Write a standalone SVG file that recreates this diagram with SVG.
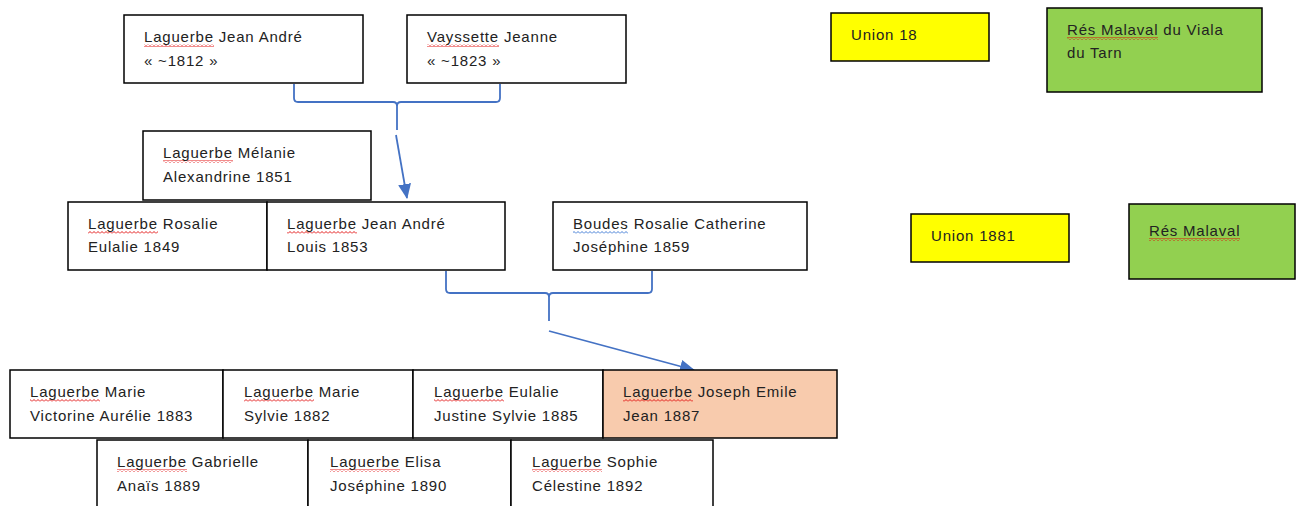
<svg xmlns="http://www.w3.org/2000/svg" width="1303" height="506" viewBox="0 0 1303 506">
<style>
.box{fill:#fff;stroke:#000;stroke-width:1.5}
.y{fill:#ffff00}
.g{fill:#92d050}
.s{fill:#f8cbad}
text{font-family:"Liberation Sans",Arial,sans-serif;font-size:15px;letter-spacing:0.8px;fill:#222}
.con{fill:none;stroke:#4472c4;stroke-width:1.8}
.sq{fill:url(#wavR)}
.sqb{fill:url(#wavB)}
</style>
<defs>
<pattern id="wavR" width="4" height="3" patternUnits="userSpaceOnUse"><path d="M0,2.5 L2,0.5 L4,2.5" fill="none" stroke="#e00000" stroke-width="0.9"/></pattern>
<pattern id="wavB" width="4" height="3" patternUnits="userSpaceOnUse"><path d="M0,2.5 L2,0.5 L4,2.5" fill="none" stroke="#2f6fd0" stroke-width="0.9"/></pattern>
<marker id="ah" markerUnits="userSpaceOnUse" markerWidth="15" markerHeight="13" refX="14" refY="6.5" orient="auto"><path d="M0,0 L15,6.5 L0,13 z" fill="#4472c4"/></marker>
</defs>

<g id="connectors">
<path class="con" d="M294,84 V98 Q294,102 298,102 H393 Q397,102 397,106 V130 M397,106 Q397,102 401,102 H496 Q500,102 500,98 V84"/>
<line class="con" x1="396" y1="135" x2="407" y2="198" marker-end="url(#ah)"/>
<path class="con" d="M446,271 V289 Q446,293 450,293 H545 Q549,293 549,297 V321 M549,297 Q549,293 553,293 H648 Q652,293 652,289 V271"/>
<line class="con" x1="549" y1="331" x2="694" y2="370" marker-end="url(#ah)"/>
</g>

<g id="n-jean-andre-1812">
<rect class="box" x="124" y="15" width="239" height="68"/>
<rect class="sq" x="144" y="44" width="70" height="3"/>
<text x="144" y="42">Laguerbe Jean André</text>
<text x="144" y="66">« ~1812 »</text>
</g>
<g id="n-vayssette">
<rect class="box" x="407" y="15" width="219" height="68"/>
<rect class="sq" x="427" y="44" width="72" height="3"/>
<text x="427" y="42">Vayssette Jeanne</text>
<text x="427" y="66">« ~1823 »</text>
</g>
<g id="n-union18">
<rect class="box y" x="831" y="13" width="158" height="48"/>
<text x="851" y="40">Union 18</text>
</g>
<g id="n-res-viala">
<rect class="box g" x="1047" y="8" width="215" height="84"/>
<rect class="sq" x="1067" y="37" width="91" height="3"/>
<text x="1067" y="35">Rés Malaval du Viala</text>
<text x="1067" y="58">du Tarn</text>
</g>

<g id="n-melanie">
<rect class="box" x="143" y="131" width="228" height="69"/>
<rect class="sq" x="163" y="160" width="70" height="3"/>
<text x="163" y="158">Laguerbe Mélanie</text>
<text x="163" y="182">Alexandrine 1851</text>
</g>
<g id="n-rosalie">
<rect class="box" x="68" y="202" width="199" height="68"/>
<rect class="sq" x="88" y="231" width="70" height="3"/>
<text x="88" y="229">Laguerbe Rosalie</text>
<text x="88" y="252">Eulalie 1849</text>
</g>
<g id="n-jean-andre-louis">
<rect class="box" x="267" y="202" width="238" height="68"/>
<rect class="sq" x="287" y="231" width="70" height="3"/>
<text x="287" y="229">Laguerbe Jean André</text>
<text x="287" y="252">Louis 1853</text>
</g>
<g id="n-boudes">
<rect class="box" x="553" y="202" width="254" height="68"/>
<rect class="sqb" x="573" y="231" width="55" height="3"/>
<text x="573" y="229">Boudes Rosalie Catherine</text>
<text x="573" y="252">Joséphine 1859</text>
</g>
<g id="n-union1881">
<rect class="box y" x="911" y="214" width="158" height="48"/>
<text x="931" y="241">Union 1881</text>
</g>
<g id="n-res-malaval">
<rect class="box g" x="1129" y="204" width="166" height="75"/>
<rect class="sq" x="1149" y="238" width="91" height="3"/>
<text x="1149" y="236">Rés Malaval</text>
</g>

<g id="n-marie-victorine">
<rect class="box" x="10" y="370" width="213" height="68"/>
<rect class="sq" x="30" y="399" width="70" height="3"/>
<text x="30" y="397">Laguerbe Marie</text>
<text x="30" y="421">Victorine Aurélie 1883</text>
</g>
<g id="n-marie-sylvie">
<rect class="box" x="223" y="370" width="190" height="68"/>
<rect class="sq" x="244" y="399" width="70" height="3"/>
<text x="244" y="397">Laguerbe Marie</text>
<text x="244" y="421">Sylvie 1882</text>
</g>
<g id="n-eulalie">
<rect class="box" x="413" y="370" width="190" height="68"/>
<rect class="sq" x="434" y="399" width="70" height="3"/>
<text x="434" y="397">Laguerbe Eulalie</text>
<text x="434" y="421">Justine Sylvie 1885</text>
</g>
<g id="n-joseph">
<rect class="box s" x="603" y="370" width="234" height="68"/>
<rect class="sq" x="623" y="399" width="70" height="3"/>
<text x="623" y="397">Laguerbe Joseph Emile</text>
<text x="623" y="421">Jean 1887</text>
</g>

<g id="n-gabrielle">
<rect class="box" x="97" y="440" width="211" height="80"/>
<rect class="sq" x="117" y="469" width="70" height="3"/>
<text x="117" y="467">Laguerbe Gabrielle</text>
<text x="117" y="491">Anaïs 1889</text>
</g>
<g id="n-elisa">
<rect class="box" x="308" y="440" width="203" height="80"/>
<rect class="sq" x="330" y="469" width="70" height="3"/>
<text x="330" y="467">Laguerbe Elisa</text>
<text x="330" y="491">Joséphine 1890</text>
</g>
<g id="n-sophie">
<rect class="box" x="511" y="440" width="202" height="80"/>
<rect class="sq" x="532" y="469" width="70" height="3"/>
<text x="532" y="467">Laguerbe Sophie</text>
<text x="532" y="491">Célestine 1892</text>
</g>
</svg>
